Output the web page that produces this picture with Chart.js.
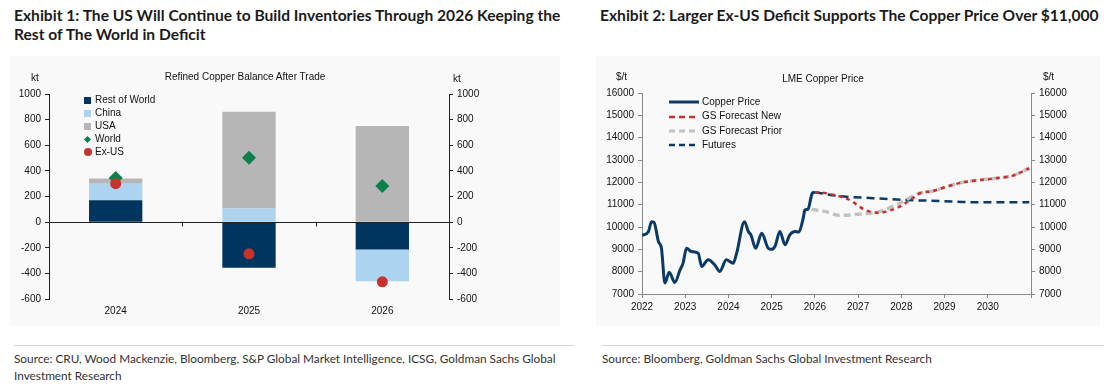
<!DOCTYPE html>
<html>
<head>
<meta charset="utf-8">
<script src="https://cdn.jsdelivr.net/npm/chart.js@4.4.1/dist/chart.umd.min.js"></script>
<style>
  body { margin: 0; width: 1104px; height: 387px; background: #fff; position: relative; overflow: hidden;
         font-family: "Liberation Sans", Arial, sans-serif; }
  .abs { position: absolute; }
  .exhibit { font-family: Lato, sans-serif; font-weight: 700; font-size: 15.6px; line-height: 19px; color: #1b1b1b; white-space: nowrap; }
  .panel { background: #f9f9f9; }
  .src { font-family: Lato, sans-serif; font-size: 11.8px; line-height: 17px; color: #333; white-space: nowrap; }
  .rule { height: 1px; background: #d6d6d6; }
  .lbl { font-size: 10px; color: #111; white-space: nowrap; }
  .leg { font-size: 10px; color: #111; white-space: nowrap; height: 13px; line-height: 13px; }
  .mk { display: inline-block; vertical-align: middle; margin-right: 4px; }
</style>
</head>
<body>

<!-- タイトル -->
<div class="abs exhibit" style="left:14px; top:6px;">Exhibit 1: The US Will Continue to Build Inventories Through 2026 Keeping the<br>Rest of The World in Deficit</div>
<div class="abs exhibit" style="left:600px; top:6px;">Exhibit 2: Larger Ex-US Deficit Supports The Copper Price Over $11,000</div>

<!-- 背景 -->
<div class="abs panel" style="left:10px; top:56px; width:550px; height:270px;"></div>
<div class="abs panel" style="left:596px; top:56px; width:504px; height:270px;"></div>

<!-- 左グラフ -->
<canvas id="balance" class="abs" style="left:9px; top:60px;" width="490" height="265"></canvas>
<div class="abs lbl" style="left:31px; top:72px;">kt</div>
<div class="abs lbl" style="left:453px; top:73px;">kt</div>
<div class="abs lbl" style="left:245px; top:71px; transform:translateX(-50%);">Refined Copper Balance After Trade</div>
<div id="balance-legend" class="abs" style="left:84px; top:93px;"></div>

<!-- 右グラフ -->
<canvas id="price" class="abs" style="left:590px; top:60px;" width="490" height="260"></canvas>
<div class="abs lbl" style="left:616px; top:71px;">$/t</div>
<div class="abs lbl" style="left:1043px; top:71px;">$/t</div>
<div class="abs lbl" style="left:823px; top:73px; transform:translateX(-50%);">LME Copper Price</div>
<div id="price-legend" class="abs" style="left:669px; top:95px;"></div>

<!-- 出典 -->
<div class="abs rule" style="left:14px; top:345px; width:560px;"></div>
<div class="abs rule" style="left:602px; top:345px; width:502px;"></div>
<div class="abs src" style="left:14px; top:350px;">Source: CRU, Wood Mackenzie, Bloomberg, S&amp;P Global Market Intelligence, ICSG, Goldman Sachs Global<br>Investment Research</div>
<div class="abs src" style="left:602px; top:350px;">Source: Bloomberg, Goldman Sachs Global Investment Research</div>

<script>
// 左グラフ: 精製銅バランス (kt)
const balanceLabels = ['2024', '2025', '2026'];
const restOfWorld = [170, -356, -213];
const china = [130, 107, -248];
const usa = [41, 755, 750];
const world = [345, 503, 281];
const exUs = [300, -247, -466];
const balanceRange = [-600, 1000, 200];

// 右グラフ: LME銅価格 ($/t)
const priceYears = [2022.0, 2022.15, 2022.22, 2022.28, 2022.38, 2022.45, 2022.53, 2022.63, 2022.76, 2022.88,
  2022.95, 2023.03, 2023.14, 2023.30, 2023.38, 2023.53, 2023.68, 2023.80, 2023.95, 2024.11,
  2024.19, 2024.37, 2024.46, 2024.52, 2024.63, 2024.77, 2024.92, 2025.0, 2025.08, 2025.19,
  2025.31, 2025.42, 2025.54, 2025.63, 2025.73, 2025.77, 2025.84, 2025.94, 2026.0];
const priceValues = [9620, 9800, 10240, 10200, 9350, 9050, 7490, 7970, 7520, 8080,
  8380, 9050, 8900, 8830, 8230, 8530, 8310, 8010, 8530, 8380,
  8830, 10240, 9800, 9650, 9050, 9720, 9050, 9000, 9150, 9800,
  9200, 9650, 9800, 9780, 10400, 10760, 10800, 11510, 11560];

const newYears = [2026.0, 2026.23, 2026.54, 2026.69, 2026.85, 2027.02, 2027.22, 2027.45, 2027.7, 2027.95,
  2028.2, 2028.42, 2028.73, 2029.04, 2029.42, 2029.81, 2030.19, 2030.58, 2030.96];
const newValues = [11560, 11520, 11390, 11290, 11170, 10920, 10720, 10640, 10720, 10900,
  11200, 11500, 11610, 11800, 12000, 12100, 12180, 12300, 12630];

const priorYears = [2025.92, 2026.23, 2026.58, 2027.04, 2027.5, 2027.96, 2028.42, 2028.73, 2029.04, 2029.42,
  2029.81, 2030.19, 2030.58, 2030.96];
const priorValues = [10790, 10700, 10520, 10580, 10690, 11060, 11510, 11610, 11800, 12000,
  12100, 12180, 12300, 12630];

const futuresYears = [2026.0, 2026.54, 2027.34, 2028.12, 2028.88, 2029.65, 2030.96];
const futuresValues = [11560, 11390, 11290, 11210, 11165, 11110, 11110];

const priceRange = [7000, 16000, 1000];
const yearRange = [2022, 2031];

// 色
const NAVY = '#003560';
const LIGHT_BLUE = '#acd3f0';
const GREY = '#b6b6b6';
const GREEN = '#0b8049';
const RED = '#c8312c';
const LINE_NAVY = '#0b3a66';
const LINE_GREY = '#c2c2c2';

Chart.defaults.font.family = '"Liberation Sans", Arial, sans-serif';
Chart.defaults.font.size = 10;
Chart.defaults.color = '#111';

/*
  座標データ作成
*/
function toPoints(xs, ys) {
  return xs.map(function(x, i) { return {x: x, y: ys[i]}; });
}

/*
  ゼロ線と区切り目盛り (左グラフ)
*/
const zeroLinePlugin = {
  id: 'zeroLine',
  afterDatasetsDraw(chart) {
    const ctx = chart.ctx;
    const area = chart.chartArea;
    const y0 = Math.round(chart.scales.y.getPixelForValue(0)) + 0.5;
    const xs = chart.scales.x;
    ctx.save();
    ctx.strokeStyle = '#222';
    ctx.lineWidth = 1;
    ctx.beginPath();
    ctx.moveTo(area.left, y0);
    ctx.lineTo(area.right, y0);
    for (let i = 0; i < balanceLabels.length - 1; i++) {
      const bx = Math.round((xs.getPixelForValue(i) + xs.getPixelForValue(i + 1)) / 2) + 0.5;
      ctx.moveTo(bx, y0);
      ctx.lineTo(bx, y0 + 4);
    }
    ctx.stroke();
    ctx.restore();
  }
};

/*
  左グラフ描画
*/
function drawBalance() {
  const barBase = {stack: 'balance', barPercentage: 0.4, categoryPercentage: 1, borderWidth: 0};
  const yAxis = function(position, width) {
    return {
      position: position,
      stacked: true,
      min: balanceRange[0],
      max: balanceRange[1],
      ticks: {stepSize: balanceRange[2], padding: 4, callback: function(v) { return String(v); }},
      grid: {drawOnChartArea: false, tickLength: 4, color: '#222', tickColor: '#222'},
      border: {color: '#222'},
      afterFit: function(scale) { scale.width = width; }
    };
  };

  new Chart(document.getElementById('balance'), {
    type: 'bar',
    data: {
      labels: balanceLabels,
      datasets: [
        Object.assign({label: 'Rest of World', data: restOfWorld, backgroundColor: NAVY}, barBase),
        Object.assign({label: 'China', data: china, backgroundColor: LIGHT_BLUE}, barBase),
        Object.assign({label: 'USA', data: usa, backgroundColor: GREY}, barBase),
        {type: 'line', label: 'World', data: world, stack: 'world', showLine: false, order: -1,
         pointStyle: 'rectRot', pointRadius: 7, backgroundColor: GREEN, borderColor: GREEN, borderWidth: 0},
        {type: 'line', label: 'Ex-US', data: exUs, stack: 'exus', showLine: false, order: -2,
         pointStyle: 'circle', pointRadius: 5.5, backgroundColor: RED, borderColor: RED, borderWidth: 0}
      ]
    },
    options: {
      responsive: false,
      animation: false,
      layout: {padding: {top: 34}},
      plugins: {legend: {display: false}, tooltip: {enabled: false}},
      scales: {
        x: {
          stacked: true,
          grid: {display: false, drawTicks: false},
          border: {display: false},
          ticks: {padding: 6},
          afterFit: function(scale) { scale.height = 26; }
        },
        y: yAxis('left', 40),
        y2: yAxis('right', 50)
      }
    },
    plugins: [zeroLinePlugin]
  });

  // 凡例
  const items = [
    ['Rest of World', '<span class="mk" style="width:7px;height:7px;background:' + NAVY + '"></span>'],
    ['China', '<span class="mk" style="width:7px;height:7px;background:' + LIGHT_BLUE + '"></span>'],
    ['USA', '<span class="mk" style="width:7px;height:7px;background:' + GREY + '"></span>'],
    ['World', '<span class="mk" style="width:5px;height:5px;margin-left:1px;margin-right:5px;transform:rotate(45deg);background:' + GREEN + '"></span>'],
    ['Ex-US', '<span class="mk" style="width:8px;height:8px;margin-right:3px;border-radius:50%;background:' + RED + '"></span>']
  ];
  document.getElementById('balance-legend').innerHTML = items.map(function(item) {
    return '<div class="leg">' + item[1] + item[0] + '</div>';
  }).join('');
}

/*
  右グラフ描画
*/
function drawPrice() {
  const yAxis = function(position, width) {
    return {
      position: position,
      min: priceRange[0],
      max: priceRange[1],
      ticks: {stepSize: priceRange[2], padding: 4, callback: function(v) { return String(v); }},
      grid: {drawOnChartArea: false, tickLength: 4, color: '#888', tickColor: '#888'},
      border: {color: '#888'},
      afterFit: function(scale) { scale.width = width; }
    };
  };

  new Chart(document.getElementById('price'), {
    type: 'line',
    data: {
      datasets: [
        {label: 'Copper Price', data: toPoints(priceYears, priceValues), borderColor: LINE_NAVY, borderWidth: 3},
        {label: 'GS Forecast New', data: toPoints(newYears, newValues), borderColor: RED, borderWidth: 2.5, borderDash: [4, 4]},
        {label: 'GS Forecast Prior', data: toPoints(priorYears, priorValues), borderColor: LINE_GREY, borderWidth: 3.5, borderDash: [7, 4]},
        {label: 'Futures', data: toPoints(futuresYears, futuresValues), borderColor: LINE_NAVY, borderWidth: 2.5, borderDash: [8, 5]}
      ]
    },
    options: {
      responsive: false,
      animation: false,
      layout: {padding: {top: 33}},
      elements: {point: {radius: 0}, line: {cubicInterpolationMode: 'monotone', borderCapStyle: 'butt'}},
      plugins: {legend: {display: false}, tooltip: {enabled: false}},
      scales: {
        x: {
          type: 'linear',
          min: yearRange[0],
          max: yearRange[1],
          ticks: {stepSize: 1, padding: 3, callback: function(v) { return v === yearRange[1] ? '' : String(v); }},
          grid: {drawOnChartArea: false, tickLength: 4, color: '#888', tickColor: '#888'},
          border: {color: '#888'},
          afterFit: function(scale) { scale.height = 26; }
        },
        y: yAxis('left', 52),
        y2: yAxis('right', 49)
      }
    }
  });

  // 凡例
  const items = [
    ['Copper Price', LINE_NAVY, 3, ''],
    ['GS Forecast New', RED, 2.5, '6 4'],
    ['GS Forecast Prior', LINE_GREY, 3, '6 4'],
    ['Futures', LINE_NAVY, 2.5, '6 4']
  ];
  document.getElementById('price-legend').innerHTML = items.map(function(item) {
    return '<div class="leg" style="height:14.3px;line-height:14.3px">' +
      '<svg class="mk" width="30" height="6" style="margin-right:3px"><line x1="0" y1="3" x2="30" y2="3" stroke="' + item[1] +
      '" stroke-width="' + item[2] + '" stroke-dasharray="' + item[3] + '"/></svg>' + item[0] + '</div>';
  }).join('');
}

drawBalance();
drawPrice();
</script>
</body>
</html>
